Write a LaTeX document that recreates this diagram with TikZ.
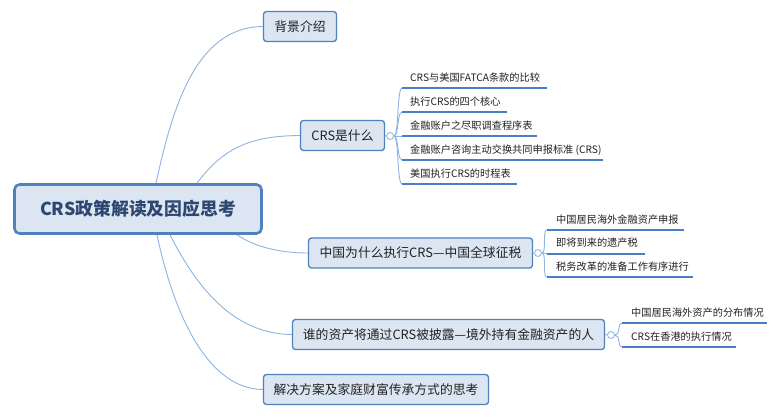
\documentclass[tikz,border=0pt]{standalone}
\usepackage{fontspec}
\setmainfont{Noto Sans CJK SC}
\usetikzlibrary{backgrounds,calc}
\definecolor{boxfill}{HTML}{DCE6F2}
\definecolor{boxline}{HTML}{4F81BD}
\definecolor{conn}{HTML}{8DB4E2}
\definecolor{uline}{HTML}{4A7EC4}
\definecolor{roottext}{HTML}{2C4770}
\definecolor{maintext}{HTML}{222222}
\tikzset{
  rootbox/.style={draw=boxline, fill=boxfill, line width=2.6pt, rounded corners=5pt,
    minimum width=247pt, minimum height=49pt, inner sep=0pt,
    font=\fontsize{17.8}{20}\selectfont\bfseries, text=roottext},
  mainbox/.style={draw=boxline, fill=boxfill, line width=1.3pt, rounded corners=3pt,
    minimum height=30pt, inner sep=0pt, font=\fontsize{12.8}{15}\selectfont, text=maintext},
  itemtext/.style={anchor=base west, inner sep=0pt, font=\fontsize{10.2}{12}\selectfont, text=maintext},
  knob/.style={circle, draw=conn, fill=white, line width=0.8pt, minimum size=7pt, inner sep=0pt},
  branch/.style={draw=conn, line width=0.9pt},
  subbranch/.style={draw=conn, line width=0.9pt},
  underl/.style={draw=uline, line width=2pt},
}
\begin{document}
\begin{tikzpicture}[x=1pt,y=-1pt]
\useasboundingbox (0,0) rectangle (780,418);

% main nodes
\node[rootbox] (root) at (138,209) {CRS政策解读及因应思考};
\node[mainbox, minimum width=73pt] (b1) at (300,26.5) {背景介绍};
\node[mainbox, minimum width=84pt] (b2) at (342.5,135.5) {CRS是什么};
\node[mainbox, minimum width=224pt] (b3) at (420.5,253) {中国为什么执行CRS—中国全球征税};
\node[mainbox, minimum width=312pt] (b4) at (448.5,334.5) {谁的资产将通过CRS被披露—境外持有金融资产的人};
\node[mainbox, minimum width=225pt] (b5) at (376,389.5) {解决方案及家庭财富传承方式的思考};

% main connectors (behind the boxes)
\begin{scope}[on background layer]
\fill[white] (0,0) rectangle (780,418);
\draw[branch] (root.center) -- ([xshift=18pt]root.north) .. controls (172,110) and (195,27) .. (b1.west);
\draw[branch] (root.center) -- ([xshift=59pt]root.north) .. controls (225,145) and (255,136) .. (b2.west);
\draw[branch] (root.center) -- ([xshift=99pt]root.south) .. controls (255,247) and (280,253) .. (b3.west);
\draw[branch] (root.center) -- ([xshift=32pt]root.south) .. controls (198,290) and (235,334) .. (b4.west);
\draw[branch] (root.center) -- ([xshift=19pt]root.south) .. controls (175,320) and (210,389) .. (b5.west);
\end{scope}

% knobs
\node[knob] (k2) at (390,136) {};
\node[knob] (k3) at (538,253) {};
\node[knob] (k4) at (611,335) {};
\draw[subbranch] (b2.east) -- (k2.west);
\draw[subbranch] (b3.east) -- (k3.west);
\draw[subbranch] (b4.east) -- (k4.west);

% CRS是什么 items
\coordinate (c1a) at (402,88);  \coordinate (c1b) at (547,88);
\coordinate (c2a) at (402,112); \coordinate (c2b) at (507,112);
\coordinate (c3a) at (402,136); \coordinate (c3b) at (537,136);
\coordinate (c4a) at (402,160); \coordinate (c4b) at (603,160);
\coordinate (c5a) at (402,184); \coordinate (c5b) at (517,184);
\node[itemtext] (c1) at (410,81)  {CRS与美国FATCA条款的比较};
\node[itemtext] (c2) at (410,105) {执行CRS的四个核心};
\node[itemtext] (c3) at (410,129) {金融账户之尽职调查程序表};
\node[itemtext] (c4) at (410,153) {金融账户咨询主动交换共同申报标准 (CRS)};
\node[itemtext] (c5) at (410,177) {美国执行CRS的时程表};
\foreach \i in {1,2,4,5}{
  \draw[subbranch] (k2.east) .. controls +(5,0) and +(-5,0) .. (c\i a);
}
\draw[subbranch] (k2.east) -- (c3a);
\foreach \i in {1,...,5}{ \draw[underl] (c\i a) -- (c\i b); }

% 中国为什么 items
\coordinate (d1a) at (547,230); \coordinate (d1b) at (684,230);
\coordinate (d2a) at (547,253.5); \coordinate (d2b) at (645,253.5);
\coordinate (d3a) at (547,277); \coordinate (d3b) at (693,277);
\node[itemtext] (d1) at (556,223)   {中国居民海外金融资产申报};
\node[itemtext] (d2) at (556,246.5) {即将到来的遗产税};
\node[itemtext] (d3) at (556,270)   {税务改革的准备工作有序进行};
\draw[subbranch] (k3.east) .. controls +(5,0) and +(-5,0) .. (d1a);
\draw[subbranch] (k3.east) -- (d2a);
\draw[subbranch] (k3.east) .. controls +(5,0) and +(-5,0) .. (d3a);
\foreach \i in {1,2,3}{ \draw[underl] (d\i a) -- (d\i b); }

% 谁的资产 items
\coordinate (e1a) at (622,323); \coordinate (e1b) at (767,323);
\coordinate (e2a) at (622,347); \coordinate (e2b) at (736,347);
\node[itemtext] (e1) at (631,316) {中国居民海外资产的分布情况};
\node[itemtext] (e2) at (631,340) {CRS在香港的执行情况};
\draw[subbranch] (k4.east) .. controls +(6,0) and +(-5,0) .. (e1a);
\draw[subbranch] (k4.east) .. controls +(6,0) and +(-5,0) .. (e2a);
\foreach \i in {1,2}{ \draw[underl] (e\i a) -- (e\i b); }
\end{tikzpicture}
\end{document}
